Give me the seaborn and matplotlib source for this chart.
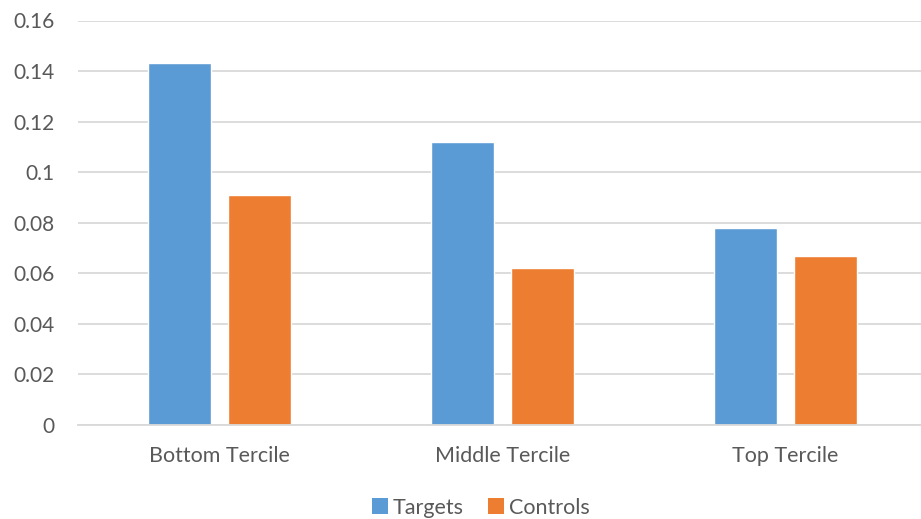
import matplotlib
matplotlib.use("Agg")
import matplotlib.pyplot as plt
from matplotlib.patches import Patch
import seaborn as sns
import pandas as pd

categories = ["Bottom Tercile", "Middle Tercile", "Top Tercile"]
targets = [0.143, 0.112, 0.078]
controls = [0.091, 0.062, 0.067]
series_names = ["Targets", "Controls"]
colors = ["#5B9BD5", "#ED7D31"]
y_ticks = [0, 0.02, 0.04, 0.06, 0.08, 0.1, 0.12, 0.14, 0.16]
y_tick_labels = ["0", "0.02", "0.04", "0.06", "0.08", "0.1", "0.12", "0.14", "0.16"]

df = pd.DataFrame({
    "category": categories * 2,
    "series": [series_names[0]] * 3 + [series_names[1]] * 3,
    "value": targets + controls,
})

sns.set_style("white")
plt.rcParams["font.family"] = ["Lato", "DejaVu Sans"]

fig = plt.figure(figsize=(9.21, 5.19), dpi=100)
ax = fig.add_axes([78 / 921, (519 - 425) / 519, 849 / 921, (425 - 20.5) / 519])

sns.barplot(data=df, x="category", y="value", hue="series", palette=colors,
            width=0.565, gap=0.21, saturation=1, legend=False, ax=ax)

ax.set_ylim(0, 0.16)
ax.set_xlim(-0.5, 2.5)
ax.set_yticks(y_ticks)
ax.set_yticklabels(y_tick_labels)
ax.yaxis.grid(True, color="#D9D9D9", linewidth=1.3)
ax.set_axisbelow(True)
for side in ["left", "right", "top"]:
    ax.spines[side].set_visible(False)
ax.spines["bottom"].set_color("#D9D9D9")
ax.spines["bottom"].set_linewidth(1.3)
ax.tick_params(axis="y", length=0, pad=17, labelsize=15, labelcolor="#595959")
ax.tick_params(axis="x", length=0, pad=15, labelsize=15.5, labelcolor="#595959")
ax.set_xlabel("")
ax.set_ylabel("")

handles = [Patch(facecolor=c, edgecolor="none") for c in colors]
fig.legend(handles, series_names, loc="lower center", bbox_to_anchor=(0.522, -0.035),
           ncol=2, frameon=False, fontsize=15.5, labelcolor="#595959",
           handlelength=0.75, handleheight=0.75, handletextpad=0.25, columnspacing=1.1)

fig.savefig("out.png", dpi=100)
